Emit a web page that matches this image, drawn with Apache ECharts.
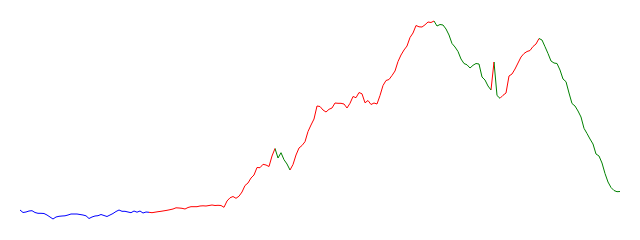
<!DOCTYPE html>
<html>
<head>
<meta charset="utf-8">
<script src="https://cdn.jsdelivr.net/npm/echarts@6/dist/echarts.min.js"></script>
<style>html,body{margin:0;padding:0;background:#fff}#c{width:640px;height:240px}</style>
</head>
<body>
<div id="c"></div>
<script>
const values = [
  30, 27.5, 28, 29, 29.3, 27.5, 26.7, 26.7, 26.5, 25,
  23, 21, 23, 23.7, 24, 24.2, 25, 26, 26, 26,
  25.5, 25, 24.2, 21.5, 23, 24, 24.3, 25.5, 24.5, 23.5,
  25, 26.5, 28.5, 30, 28.7, 28.7, 28, 27.3, 29, 27.8,
  29, 27, 28, 27.7, 27.3, 27.8, 28.3, 28.7, 29.2, 29.7,
  30.3, 31, 32.2, 32, 31.7, 31, 32.5, 33.3, 33.3, 33.3,
  34, 34.2, 34, 34.5, 35, 34.5, 34.7, 34.5, 32.7, 39,
  42.2, 43.5, 41.7, 43.8, 48, 54.5, 57, 62, 65, 72.5,
  72.3, 75.7, 75, 73.5, 84, 91.5, 82, 87.3, 80.3, 76,
  70, 75.5, 85, 92, 94.5, 98.3, 108.5, 115, 121, 134,
  133.5, 130, 128, 130.7, 132, 137, 136.7, 136.7, 136, 132,
  136.7, 143.5, 142.3, 147.5, 146.2, 137.2, 139.5, 135.5, 137, 136,
  144.5, 154.5, 159.5, 160.5, 164.5, 169, 178.5, 185, 190, 194,
  202.5, 207, 214.5, 213.2, 213, 215.2, 218, 217.5, 219, 214,
  215.5, 215, 211, 205, 196.5, 193, 188.5, 181, 176.5, 175.2,
  172, 174.7, 176.5, 176, 163, 160, 154, 150, 178, 144.5,
  141.7, 144.7, 147, 164, 166, 171, 177, 183, 186.5, 188.5,
  189.5, 193.5, 196, 201.5, 200, 193.3, 186.5, 179, 177, 176.5,
  170, 161, 158.3, 147, 136.5, 134, 129, 123, 111.7, 106.5,
  101, 96, 86, 84, 77, 66.5, 58, 52.5, 49.5, 48.3,
  48.5
];
const categories = values.map((_, i) => String(i));
const pieces = [
  { lte: 42.5, color: '#0000ff' },
  { gt: 42.5, lte: 85, color: '#ff0000' },
  { gt: 85, lte: 90, color: '#008000' },
  { gt: 90, lte: 138, color: '#ff0000' },
  { gt: 138, lte: 157, color: '#008000' },
  { gt: 157, lte: 158, color: '#ff0000' },
  { gt: 158, lte: 160, color: '#008000' },
  { gt: 160, lte: 173, color: '#ff0000' },
  { gt: 173, color: '#008000' }
];
const chart = echarts.init(document.getElementById('c'), null, { renderer: 'canvas' });
chart.setOption({
  animation: false,
  grid: { left: 20, right: 20, top: 0, bottom: 0 },
  xAxis: { type: 'category', data: categories, boundaryGap: false, show: false },
  yAxis: { type: 'value', min: 0, max: 240, show: false },
  visualMap: { show: false, dimension: 0, pieces: pieces },
  series: [{
    type: 'line',
    data: values,
    symbol: 'none',
    lineStyle: { width: 1 }
  }]
});
</script>
</body>
</html>
